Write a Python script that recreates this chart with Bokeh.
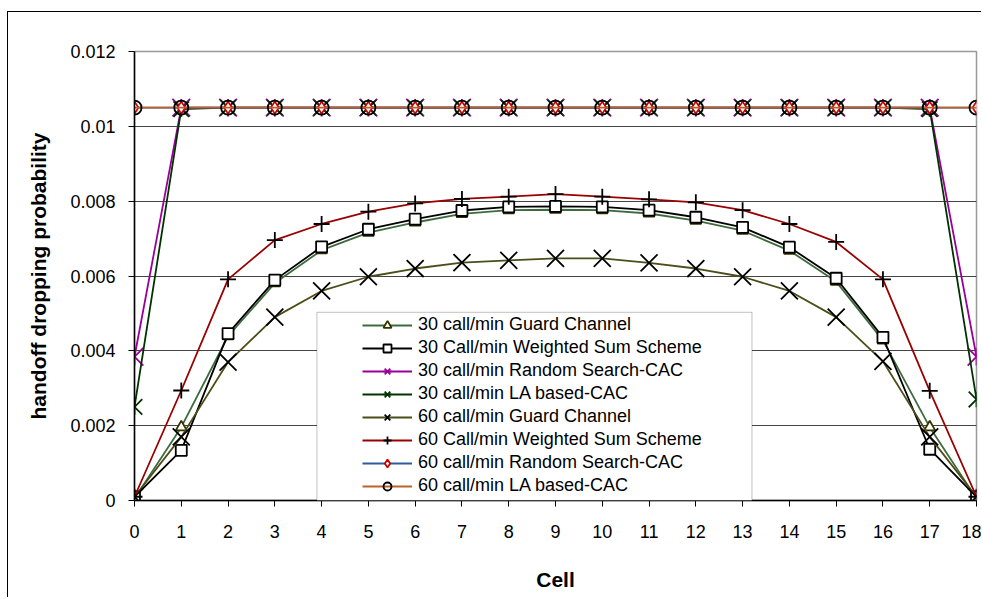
import math
from bokeh.plotting import figure
from bokeh.models import Range1d, FixedTicker, Legend, LegendItem, BoxAnnotation
from bokeh.embed import file_html
from bokeh.resources import INLINE

# ---------------- data ----------------
cells = list(range(19))
x_ticks = list(range(19))
y_ticks = [0, 0.002, 0.004, 0.006, 0.008, 0.01, 0.012]
y_tick_labels = ["0", "0.002", "0.004", "0.006", "0.008", "0.01", "0.012"]

gc30 = [0.00005, 0.00196, 0.00439, 0.00581, 0.00669, 0.00716, 0.00743, 0.00766, 0.00776,
        0.00777, 0.00776, 0.00767, 0.00748, 0.00721, 0.00668, 0.00585, 0.00428, 0.00196, 0.00005]
ws30 = [0.0001, 0.00134, 0.00446, 0.00589, 0.00678, 0.00725, 0.00752, 0.00775, 0.00785,
        0.00786, 0.00785, 0.00776, 0.00757, 0.0073, 0.00677, 0.00594, 0.00436, 0.00137, 0.0001]
rs30 = [0.00384] + [0.0105] * 17 + [0.00384]
la30 = [0.0025, 0.01046] + [0.0105] * 15 + [0.01046, 0.0027]
gc60 = [0.0001, 0.0017, 0.0037, 0.0049, 0.0056, 0.00598, 0.0062, 0.00636, 0.00642,
        0.00647, 0.00647, 0.00635, 0.0062, 0.00598, 0.0056, 0.0049, 0.00372, 0.0017, 0.0001]
ws60 = [0.0001, 0.00294, 0.00591, 0.00696, 0.00739, 0.00772, 0.00794, 0.00806, 0.00812,
        0.00819, 0.00812, 0.00805, 0.00797, 0.00776, 0.00739, 0.00691, 0.00591, 0.00293, 0.0001]
rs60 = [0.0105] * 19
la60 = [0.0105] * 19

series_names = [
    "30 call/min Guard Channel",
    "30 Call/min Weighted Sum Scheme",
    "30 call/min Random Search-CAC",
    "30 call/min LA based-CAC",
    "60 call/min Guard Channel",
    "60 Call/min Weighted Sum Scheme",
    "60 call/min Random Search-CAC",
    "60 call/min LA based-CAC",
]
series_values = [gc30, ws30, rs30, la30, gc60, ws60, rs60, la60]

# styles: line colour, marker, marker size, marker line colour, marker fill
styles = [
    ("#3d6b3d", "triangle", 11, "#333300", "white"),
    ("#000000", "square", 11, "#000000", "white"),
    ("#990099", "star", 25, "#990099", None),
    ("#003300", "star", 22, "#003300", None),
    ("#4d4d1a", "x", 24, "#000000", None),
    ("#990000", "cross", 16, "#000000", None),
    ("#2a5d9a", "diamond", 12, "#cc0000", "white"),
    ("#c0602a", "circle", 14, "#000000", None),
]

FONT = "Liberation Sans"

p = figure(width=974, height=586, output_backend="svg", toolbar_location=None,
           x_range=Range1d(0, 18), y_range=Range1d(0, 0.012),
           min_border_left=126, min_border_right=6, min_border_top=39, min_border_bottom=98)
p.styles = {"border-left": "1px solid #000000", "border-top": "1px solid #000000",
            "margin-left": "7px", "margin-top": "11px"}
p.background_fill_color = "white"
p.border_fill_color = "white"
p.outline_line_color = "#999999"
p.outline_line_width = 1.5

p.xgrid.visible = False
p.ygrid.ticker = FixedTicker(ticks=y_ticks)
p.ygrid.grid_line_color = "#444444"
p.ygrid.grid_line_width = 1

p.xaxis.ticker = FixedTicker(ticks=x_ticks)
p.yaxis.ticker = FixedTicker(ticks=y_ticks)
p.yaxis.major_label_overrides = {t: lab for t, lab in zip(y_ticks, y_tick_labels)}
for ax in (p.xaxis, p.yaxis):
    ax.axis_line_color = "#000000"
    ax.axis_line_width = 1.5
    ax.major_tick_line_color = "#000000"
    ax.major_tick_out = 6
    ax.major_tick_in = 0
    ax.minor_tick_out = 0
    ax.minor_tick_in = 0
    ax.major_label_text_font = FONT
    ax.major_label_text_font_size = "18px"
    ax.major_label_text_color = "#000000"
    ax.axis_label_text_font = FONT
    ax.axis_label_text_font_size = "21px"
    ax.axis_label_text_font_style = "bold"
    ax.axis_label_text_color = "#000000"
p.yaxis.major_label_standoff = 13
p.xaxis.major_label_standoff = 18
p.xaxis.axis_label = "Cell"
p.yaxis.axis_label = "handoff dropping probability"
p.yaxis.axis_label_standoff = 17
p.xaxis.axis_label_standoff = 27

items = []
for name, vals, (lc, mk, ms, mlc, mfc) in zip(series_names, series_values, styles):
    rs = [p.line(cells, vals, line_color=lc, line_width=1.8)]
    if mk == "star":
        rs.append(p.scatter(cells, vals, marker="x", size=ms, line_color=mlc, line_width=1.8))
        rs.append(p.scatter(cells, vals, marker="dash", size=ms * 0.7, angle=math.pi / 2,
                            line_color=mlc, line_width=1.8))
    else:
        kw = dict(marker=mk, size=ms, line_color=mlc, line_width=1.8)
        if mfc is None:
            kw["fill_alpha"] = 0
        else:
            kw["fill_color"] = mfc
        rs.append(p.scatter(cells, vals, **kw))
    items.append(LegendItem(label=name, renderers=rs))

box = BoxAnnotation(left=3.9, right=13.2, bottom=0, top=0.00503,
                    fill_color="white", fill_alpha=1.0,
                    line_color="#333333", line_width=1, level="annotation")
p.add_layout(box)

legend = Legend(items=items, location=(224, 0), padding=4, margin=0,
                glyph_width=50, glyph_height=20, label_height=20, spacing=2,
                label_standoff=6, label_text_font=FONT, label_text_font_size="18px",
                label_text_color="#000000", border_line_alpha=0,
                background_fill_alpha=0)
legend.level = "overlay"
p.add_layout(legend)

open("out.html", "w").write(file_html(p, INLINE))
